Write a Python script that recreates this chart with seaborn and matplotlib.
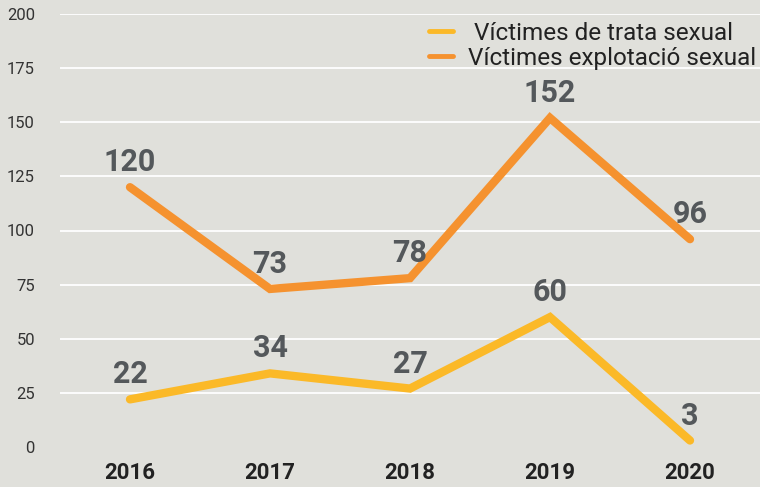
import matplotlib
matplotlib.use("Agg")
import matplotlib.pyplot as plt
import seaborn as sns
import pandas as pd
from matplotlib.lines import Line2D

# data
years = ["2016", "2017", "2018", "2019", "2020"]
trata = [22, 34, 27, 60, 3]
explotacio = [120, 73, 78, 152, 96]
series_names = [" Víctimes de trata sexual", "Víctimes explotació sexual"]
y_ticks = [0, 25, 50, 75, 100, 125, 150, 175, 200]

bg = "#e0e0db"
colors = {series_names[0]: "#fbb928", series_names[1]: "#f5922f"}
label_color = "#54585b"

df = pd.DataFrame({
    "year": years * 2,
    "value": trata + explotacio,
    "serie": [series_names[0]] * len(years) + [series_names[1]] * len(years),
})
df["x"] = df["year"].map({y: i for i, y in enumerate(years)})

sns.set_theme(style="white")
plt.rcParams["font.family"] = ["Roboto", "DejaVu Sans"]

fig = plt.figure(figsize=(7.6, 4.87), dpi=100, facecolor=bg)
ax = fig.add_axes([60 / 760, 40 / 487, 700 / 760, 433 / 487])
ax.set_facecolor(bg)

sns.lineplot(data=df, x="x", y="value", hue="serie", palette=colors,
             linewidth=6, solid_capstyle="round", solid_joinstyle="miter",
             legend=False, ax=ax, zorder=3)

# value labels
for _, row in df.iterrows():
    ax.annotate(str(row["value"]), (row["x"], row["value"]),
                xytext=(0, 18), textcoords="offset points",
                ha="center", va="center", fontsize=22, fontweight="bold",
                color=label_color, zorder=4)

ax.set_xlim(-0.5, 4.5)
ax.set_ylim(0, 200)
ax.set_xticks(range(len(years)))
ax.set_xticklabels(years)
ax.set_yticks(y_ticks)
ax.set_xlabel("")
ax.set_ylabel("")

for lab in ax.get_xticklabels():
    lab.set_fontsize(16)
    lab.set_fontweight("bold")
    lab.set_color("#222222")
for lab in ax.get_yticklabels():
    lab.set_fontsize(12)
    lab.set_color("#333333")

ax.tick_params(axis="x", length=0, pad=11)
ax.tick_params(axis="y", length=0, pad=18)

ax.grid(axis="y", color="white", linewidth=1.3)
ax.get_ygridlines()[0].set_visible(False)
for s in ax.spines.values():
    s.set_visible(False)

handles = [Line2D([0], [0], color=colors[n], linewidth=3.5) for n in series_names]
leg = ax.legend(handles, series_names, loc="upper right",
                bbox_to_anchor=(1.008, 1.005), frameon=False,
                fontsize=17.5, handlelength=1.0, handletextpad=0.6,
                labelspacing=0.1, borderaxespad=0.0)
for t in leg.get_texts():
    t.set_color("#222222")

fig.savefig("out.png", dpi=100, facecolor=bg)
